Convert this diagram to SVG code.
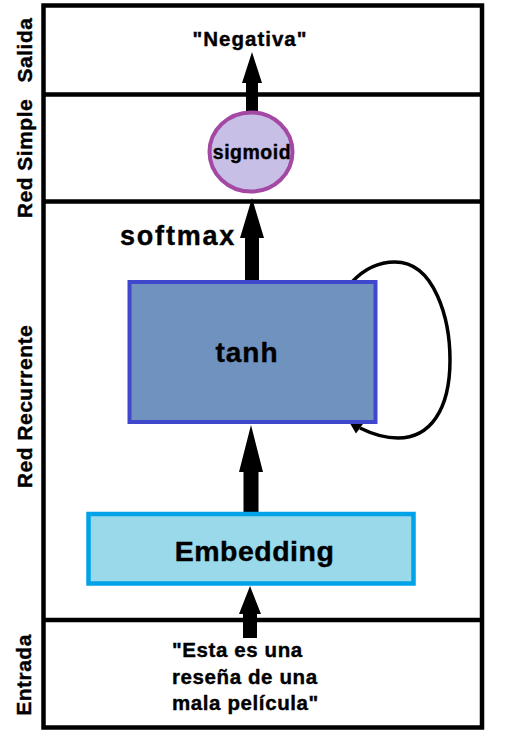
<svg xmlns="http://www.w3.org/2000/svg" width="506" height="753" viewBox="0 0 506 753">
<style>
text{font-family:"Liberation Sans",Arial,sans-serif;font-weight:bold;fill:#000;stroke:#000;stroke-width:0.4}
.frame{fill:none;stroke:#000;stroke-width:4.5}
.lbl{font-size:21px;letter-spacing:0.5px;text-anchor:middle}
.arrow{fill:#000;stroke:none}
.loop{fill:none;stroke:#000;stroke-width:3.5}
</style>
<rect width="506" height="753" fill="#fff"/>
<g id="frame">
<rect class="frame" x="43.5" y="5.5" width="438.5" height="722"/>
<line class="frame" x1="43.5" y1="94.5" x2="482" y2="94.5"/>
<line class="frame" x1="43.5" y1="201.5" x2="482" y2="201.5"/>
<line class="frame" x1="43.5" y1="620" x2="482" y2="620"/>
</g>
<g id="labels">
<text class="lbl" transform="translate(31.5,50) rotate(-90)">Salida</text>
<text class="lbl" transform="translate(31.5,158.5) rotate(-90)">Red Simple</text>
<text class="lbl" transform="translate(31.5,406.5) rotate(-90)">Red Recurrente</text>
<text class="lbl" transform="translate(31,675) rotate(-90)">Entrada</text>
</g>
<g id="connectors">
<polygon class="arrow" points="246,112 246,83 242,83 252,52 262,83 258,83 258,112"/>
<polygon class="arrow" points="245,280 245,238 240,238 252,198 264,238 259,238 259,280"/>
<polygon class="arrow" points="243.5,512 243.5,472 239,472 251,425 263,472 258.5,472 258.5,512"/>
<polygon class="arrow" points="243,638 243,614 239,614 250,586 261,614 257,614 257,638"/>
<path class="loop" d="M352,282 C365,268 380,262 395,262 C435,262 450,320 450,360 C450,410 430,438 398,438 C385,438 372,434 360,428"/>
<polygon class="arrow" points="348,420 364,422.5 356,433.5"/>
</g>
<g id="output">
<text x="250" y="46" font-size="20.5" letter-spacing="1" text-anchor="middle">"Negativa"</text>
</g>
<g id="sigmoid">
<ellipse cx="251" cy="152" rx="41.5" ry="39.5" fill="#C8BFE7" stroke="#A349A4" stroke-width="4"/>
<text x="252" y="159" font-size="19.5" letter-spacing="0.5" text-anchor="middle">sigmoid</text>
</g>
<g id="softmax">
<text x="120" y="245" font-size="27" letter-spacing="1.8">softmax</text>
</g>
<g id="tanh">
<rect x="129.5" y="282" width="246" height="140" fill="#7092BE" stroke="#3F48CC" stroke-width="4"/>
<text x="247" y="362" font-size="28" letter-spacing="1" text-anchor="middle">tanh</text>
</g>
<g id="embedding">
<rect x="88.5" y="514" width="325" height="69.5" fill="#99D9EA" stroke="#00A2E8" stroke-width="4.5"/>
<text x="254.5" y="561" font-size="28.5" letter-spacing="0.5" text-anchor="middle">Embedding</text>
</g>
<g id="input">
<text font-size="20.5" letter-spacing="0.6"><tspan x="172" y="657">"Esta es una</tspan><tspan x="172" y="683.5">reseña de una</tspan><tspan x="172" y="710">mala película"</tspan></text>
</g>
</svg>
